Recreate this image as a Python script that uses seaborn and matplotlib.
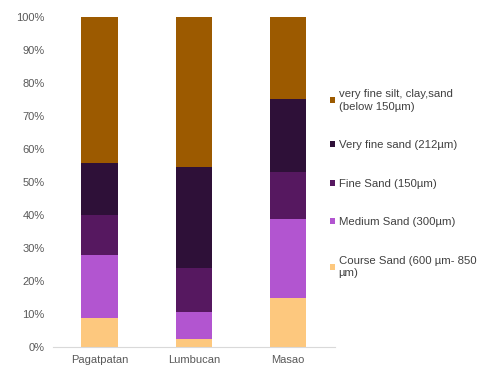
import numpy as np
import pandas as pd
import matplotlib
matplotlib.use("Agg")
import matplotlib.pyplot as plt
from matplotlib.patches import Patch
from matplotlib.ticker import PercentFormatter
import seaborn as sns

sites = ["Pagatpatan", "Lumbucan", "Masao"]
fractions = [
    "Course Sand (600 µm- 850\nµm)",
    "Medium Sand (300µm)",
    "Fine Sand (150µm)",
    "Very fine sand (212µm)",
    "very fine silt, clay,sand\n(below 150µm)",
]
coarse_sand = [8.6, 2.5, 14.8]
medium_sand = [19.2, 8.1, 23.8]
fine_sand = [12.1, 13.3, 14.4]
very_fine_sand = [15.9, 30.6, 22.0]
silt_clay = [44.2, 45.5, 25.0]
colors = ["#FDC87E", "#B255D0", "#561860", "#2E1038", "#9C5A00"]

sns.set_theme(style="white")
plt.rcParams["font.family"] = ["Liberation Sans", "DejaVu Sans"]

layers = [coarse_sand, medium_sand, fine_sand, very_fine_sand, silt_clay]
shares = np.array(layers, dtype=float)
shares = shares / shares.sum(axis=0) * 100
tops = np.cumsum(shares, axis=0)

fig, ax = plt.subplots(figsize=(4.8, 3.67), dpi=100)
fig.subplots_adjust(left=0.11, right=0.698, bottom=0.055, top=0.955)

# Stacked bars: draw cumulative totals from the top layer down
for i in range(len(layers) - 1, -1, -1):
    df = pd.DataFrame({"site": sites, "top": tops[i]})
    sns.barplot(data=df, x="site", y="top", color=colors[i], width=0.39,
                saturation=1, linewidth=0, ax=ax, order=sites)

ax.set_ylim(0, 100)
ax.set_xlim(-0.5, 2.5)
ax.set_yticks(np.arange(0, 101, 10))
ax.yaxis.set_major_formatter(PercentFormatter(decimals=0))
ax.set_xlabel("")
ax.set_ylabel("")
for s in ["top", "right", "left"]:
    ax.spines[s].set_visible(False)
ax.spines["bottom"].set_color("#D9D9D9")
ax.spines["bottom"].set_linewidth(0.8)
ax.tick_params(axis="both", length=0, labelsize=8, colors="#595959")
ax.tick_params(axis="x", pad=6)
ax.tick_params(axis="y", pad=6)

handles = [Patch(facecolor=colors[i], edgecolor="none", label=fractions[i])
           for i in range(len(layers) - 1, -1, -1)]
leg = fig.legend(handles=handles, loc="upper left", bbox_to_anchor=(0.677, 0.77),
                 frameon=False, fontsize=8.2, handlelength=0.45, handleheight=0.45,
                 handletextpad=0.35, labelspacing=2.5, borderaxespad=0)
for t in leg.get_texts():
    t.set_color("#404040")
    t.set_linespacing(1.35)

fig.savefig("out.png", dpi=100)
